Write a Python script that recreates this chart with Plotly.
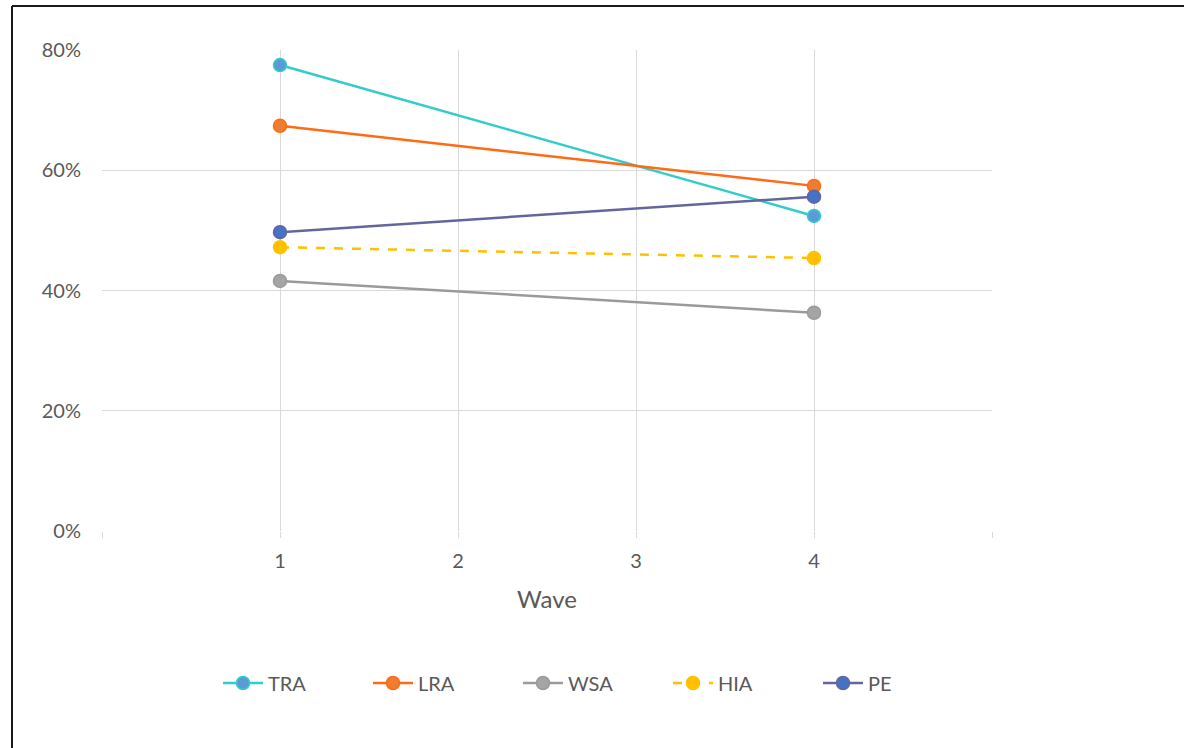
import plotly.graph_objects as go

waves = [1, 4]
series_names = ["TRA", "LRA", "WSA", "HIA", "PE"]
tra = [0.775, 0.524]
lra = [0.674, 0.574]
wsa = [0.416, 0.363]
hia = [0.472, 0.454]
pe = [0.497, 0.556]
x_tick_vals = [0, 1, 2, 3, 4, 5]
x_tick_text = ["", "1", "2", "3", "4", ""]
y_tick_vals = [0, 0.2, 0.4, 0.6, 0.8]

styles = {
    "TRA": dict(line="#33CCCC", fill="#5B9BD5", dash="solid"),
    "LRA": dict(line="#FF6A13", fill="#ED7D31", dash="solid"),
    "WSA": dict(line="#9A9A9A", fill="#A5A5A5", dash="solid"),
    "HIA": dict(line="#FFC000", fill="#FFC000", dash="dash"),
    "PE": dict(line="#65659E", fill="#4472C4", dash="solid"),
}
values = {"TRA": tra, "LRA": lra, "WSA": wsa, "HIA": hia, "PE": pe}

FONT = "Lato, Open Sans, sans-serif"
TEXT = "#595959"
GRID = "#D9D9D9"

fig = go.Figure()
for name in series_names:
    s = styles[name]
    fig.add_trace(go.Scatter(
        x=waves, y=values[name], name=name, mode="lines+markers",
        line=dict(color=s["line"], width=2.5, dash=s["dash"]),
        marker=dict(size=13, color=s["fill"], line=dict(color=s["line"], width=1.5)),
        cliponaxis=False,
    ))

W, H = 1184, 748
L, R, T, B = 102, 192, 50, 217
pw, ph = W - L - R, H - T - B

def px_to_paper_x(px):
    return (px - L) / pw

def px_to_paper_y(py):
    return (H - B - py) / ph

# outer frame (top and left edges)
frame = dict(color="#1A1A1A", width=2)
fig.add_shape(type="line", xref="paper", yref="paper",
              x0=px_to_paper_x(12), x1=px_to_paper_x(W + 5),
              y0=px_to_paper_y(6), y1=px_to_paper_y(6), line=frame)
fig.add_shape(type="line", xref="paper", yref="paper",
              x0=px_to_paper_x(12), x1=px_to_paper_x(12),
              y0=px_to_paper_y(6), y1=px_to_paper_y(H + 5), line=frame)

fig.update_layout(
    width=W, height=H,
    margin=dict(l=L, r=R, t=T, b=B),
    paper_bgcolor="white", plot_bgcolor="white",
    font=dict(family=FONT, size=20, color=TEXT),
    showlegend=True,
    legend=dict(
        orientation="h", x=px_to_paper_x(593), xanchor="center",
        y=px_to_paper_y(683), yanchor="middle",
        font=dict(family=FONT, size=20, color=TEXT),
        entrywidth=95, entrywidthmode="pixels",
        itemwidth=40, bgcolor="rgba(0,0,0,0)",
    ),
    xaxis=dict(
        range=[0, 5], tickvals=x_tick_vals, ticktext=x_tick_text,
        showgrid=True, gridcolor=GRID, gridwidth=1,
        zeroline=False, showline=False,
        ticks="outside", ticklen=6, tickcolor=GRID, tickwidth=1,
        ticklabelstandoff=6,
        title=dict(text="Wave", font=dict(family=FONT, size=24, color=TEXT), standoff=20),
        fixedrange=True,
    ),
    yaxis=dict(
        range=[0, 0.8], tickvals=y_tick_vals, tickformat=".0%",
        showgrid=True, gridcolor=GRID, gridwidth=1,
        zeroline=False, showline=False, ticks="",
        ticklabelstandoff=20,
        fixedrange=True,
    ),
)

fig.write_html("out.html")
